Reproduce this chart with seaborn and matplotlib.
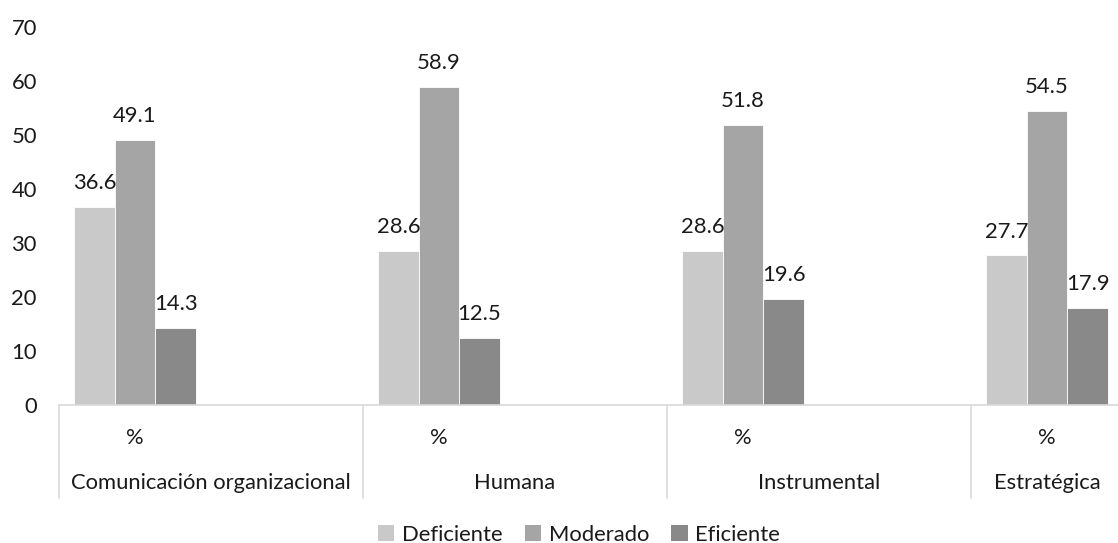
import matplotlib
matplotlib.use("Agg")
import matplotlib.pyplot as plt
import matplotlib.transforms as mtransforms
from matplotlib.patches import Patch
import pandas as pd
import seaborn as sns

# Dimensions and rating levels
groups = ["Comunicación organizacional", "Humana", "Instrumental", "Estratégica"]
levels = ["Deficiente", "Moderado", "Eficiente"]
deficiente = [36.6, 28.6, 28.6, 27.7]
moderado = [49.1, 58.9, 51.8, 54.5]
eficiente = [14.3, 12.5, 19.6, 17.9]
sub_label = "%"
y_ticks = [0, 10, 20, 30, 40, 50, 60, 70]
colors = ["#c9c9c9", "#a5a5a5", "#898989"]

# Each dimension owns a "%" slot plus a blank slot (the last one only "%")
slot_order = []
slot_group = []
for i, g in enumerate(groups):
    slot_order.append(f"{g}|%")
    slot_group.append(i)
    if i < len(groups) - 1:
        slot_order.append(f"{g}|")
        slot_group.append(i)

rows = []
for i, g in enumerate(groups):
    for lev, vals in zip(levels, [deficiente, moderado, eficiente]):
        rows.append({"slot": f"{g}|%", "nivel": lev, "valor": vals[i]})
df = pd.DataFrame(rows)

sns.set_theme(style="white")
font = ["Lato", "DejaVu Sans"]
plt.rcParams["font.family"] = font
text_color = "#1a1a1a"
fs = 15.8

W, H = 1118, 543
fig = plt.figure(figsize=(W / 100, H / 100), dpi=100)
left, right, top, bottom = 59, 1123, 27, 405
ax = fig.add_axes([left / W, 1 - bottom / H, (right - left) / W, (bottom - top) / H])

sns.barplot(data=df, x="slot", y="valor", hue="nivel", order=slot_order,
            hue_order=levels, palette=colors, width=0.8, saturation=1,
            edgecolor="white", linewidth=0.6, ax=ax, legend=False)

for cont in ax.containers:
    ax.bar_label(cont, fmt="%.1f", padding=10, fontsize=fs, color=text_color)

ax.set_xlim(-0.5, len(slot_order) - 0.5)
ax.set_ylim(0, 70)
ax.set_yticks(y_ticks)
ax.set_xticks([])
ax.set_xlabel("")
ax.set_ylabel("")
ax.tick_params(axis="y", length=0, pad=16, labelsize=fs, labelcolor=text_color)
for s in ["top", "right", "left"]:
    ax.spines[s].set_visible(False)
ax.spines["bottom"].set_color("#d9d9d9")
ax.spines["bottom"].set_linewidth(1.2)

# Two-level category axis below the baseline
trans = mtransforms.blended_transform_factory(ax.transData, ax.transAxes)
axes_h = bottom - top
for k, name in enumerate(slot_order):
    if name.endswith("|%"):
        ax.text(k, -33 / axes_h, sub_label, transform=trans, ha="center",
                va="center", fontsize=fs, color=text_color)

bounds = []
start = 0
for i, g in enumerate(groups):
    n = slot_group.count(i)
    x0, x1 = start - 0.5, start + n - 0.5
    bounds.append(x0)
    ax.text((x0 + x1) / 2, -78 / axes_h, g, transform=trans, ha="center",
            va="center", fontsize=fs, color=text_color)
    start += n
bounds.append(start - 0.5)
for b in bounds:
    ax.plot([b, b], [0, -93 / axes_h], transform=trans, color="#d9d9d9",
            lw=1.2, clip_on=False)

handles = [Patch(facecolor=c, edgecolor="none") for c in colors]
fig.legend(handles, levels, loc="center", bbox_to_anchor=(579 / W, 1 - 535 / H),
           ncol=3, frameon=False, fontsize=fs, handlelength=0.75,
           handleheight=0.75, handletextpad=0.35, columnspacing=1.0,
           labelcolor=text_color)

fig.savefig("out.png", dpi=100)
